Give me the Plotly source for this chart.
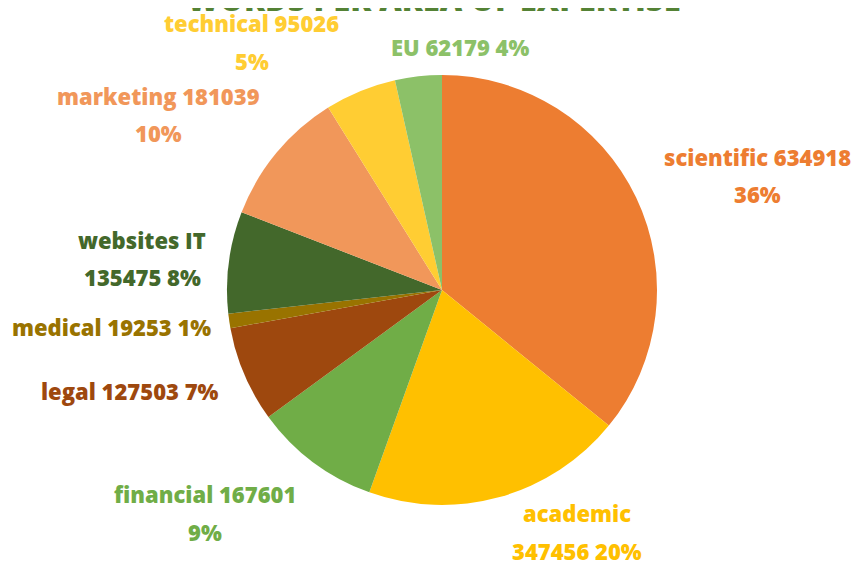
import plotly.graph_objects as go

categories = ["scientific", "academic", "financial", "legal", "medical",
              "websites IT", "marketing", "technical", "EU"]
words = [634918, 347456, 167601, 127503, 19253, 135475, 181039, 95026, 62179]
colors = ["#ED7D31", "#FFC000", "#70AD47", "#9E480E", "#997300",
          "#43682B", "#F1975A", "#FFCD33", "#8CC168"]
# how the label text is split in lines
split_style = ["np", "n", "np", "", "", "n", "np", "np", ""]
# label line centres in window pixels (x, y of each line)
label_pos = [
    [(757, 157), (757, 194)],
    [(577, 513), (577, 551)],
    [(205, 494), (205, 532)],
    [(130, 391)],
    [(111, 327)],
    [(142, 240), (142, 277)],
    [(158, 96), (158, 133)],
    [(252, 23), (252, 61)],
    [(460, 47)],
]

W, H = 864, 568
OFF = 8  # page body margin of the html page
total = sum(words)


def fx(px):
    return (px - OFF) / W


def fy(py):
    return 1 - (py - OFF) / H


cx, cy, r = 442, 290, 215
fig = go.Figure(go.Pie(
    labels=categories, values=words, sort=False, direction="clockwise",
    rotation=0, textinfo="none", hoverinfo="label+value+percent",
    marker=dict(colors=colors, line=dict(width=0)),
    domain=dict(x=[fx(cx - r), fx(cx + r)], y=[fy(cy + r), fy(cy - r)]),
    showlegend=False,
))

font_family = "Open Sans"
annotations = []
for name, v, c, s, pos in zip(categories, words, colors, split_style, label_pos):
    pct = round(v / total * 100)
    if s == "np":
        lines = [f"{name} {v}", f"{pct}%"]
    elif s == "n":
        lines = [name, f"{v} {pct}%"]
    else:
        lines = [f"{name} {v} {pct}%"]
    for txt, (px, py) in zip(lines, pos):
        annotations.append(dict(
            text=txt, x=fx(px), y=fy(py), xref="paper", yref="paper",
            xanchor="center", yanchor="middle", showarrow=False,
            font=dict(family=font_family, size=22, weight=800, color=c)))

annotations.append(dict(
    text="WORDS PER AREA OF EXPERTISE", x=fx(434), y=fy(-1),
    xref="paper", yref="paper", xanchor="center", yanchor="middle",
    showarrow=False,
    font=dict(family=font_family, size=31, weight=800, color="#548235")))

fig.update_layout(
    width=W, height=H, margin=dict(l=0, r=0, t=0, b=0),
    paper_bgcolor="white", plot_bgcolor="white",
    annotations=annotations,
)

fig.write_html("out.html")
